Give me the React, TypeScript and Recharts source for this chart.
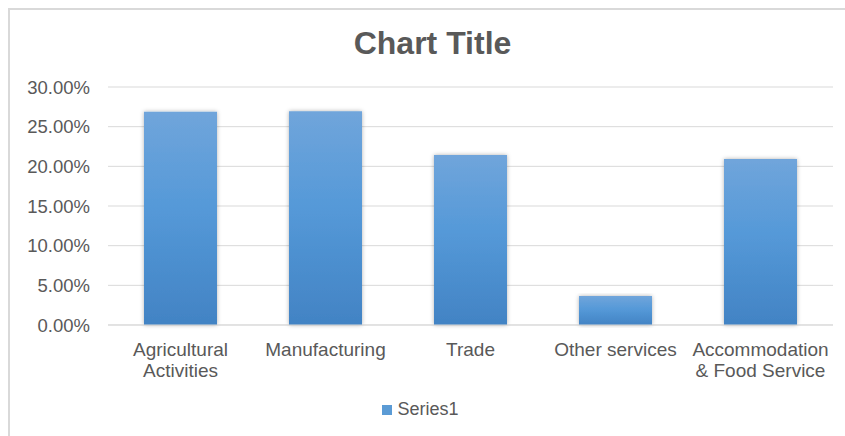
import { BarChart, Bar, XAxis, YAxis, CartesianGrid, Legend } from "recharts"

const categories = [
  "Agricultural\nActivities",
  "Manufacturing",
  "Trade",
  "Other services",
  "Accommodation\n& Food Service",
]
const series1 = [0.2687, 0.2695, 0.2144, 0.0364, 0.2094]
const yTicks = [0, 0.05, 0.1, 0.15, 0.2, 0.25, 0.3]

const data = categories.map((name, i) => ({ name, Series1: series1[i] }))

const FONT = "'Liberation Sans', Arial, sans-serif"
const TEXT = "#595959"

function CategoryTick(props: any) {
  const { x, y, payload } = props
  const lines = String(payload.value).split("\n")
  return (
    <text x={x} y={y} textAnchor="middle" fill={TEXT} fontSize={19} fontFamily={FONT}>
      {lines.map((l, i) => (
        <tspan key={i} x={x} dy={i === 0 ? 23 : 21}>
          {l}
        </tspan>
      ))}
    </text>
  )
}

function LegendContent() {
  return (
    <div
      style={{
        display: "flex",
        justifyContent: "center",
        alignItems: "center",
        fontFamily: FONT,
        fontSize: 18,
        color: TEXT,
        paddingTop: 14,
      }}
    >
      <span style={{ width: 10, height: 10, background: "#5b9bd5", marginRight: 5 }} />
      Series1
    </div>
  )
}

export default function App() {
  return (
    <div style={{ position: "fixed", left: 0, top: 0, width: 845, height: 436, background: "#fff" }}>
      <div
        style={{
          position: "absolute",
          left: 8,
          top: 8,
          width: 845,
          height: 436,
          borderLeft: "2px solid #d9d9d9",
          borderTop: "2px solid #d9d9d9",
        }}
      />
      <div
        style={{
          position: "absolute",
          left: 0,
          width: 865,
          top: 25,
          textAlign: "center",
          fontFamily: FONT,
          fontWeight: "bold",
          fontSize: 32,
          color: TEXT,
        }}
      >
        Chart Title
      </div>
      <BarChart
        width={845}
        height={436}
        data={data}
        margin={{ top: 87, right: 12, left: 8, bottom: 0 }}
        barCategoryGap="25%"
        style={{ position: "absolute", left: 0, top: 0 }}
      >
        <defs>
          <linearGradient id="barFill" x1="0" y1="0" x2="0" y2="1">
            <stop offset="0%" stopColor="#70a5db" />
            <stop offset="45%" stopColor="#5599d8" />
            <stop offset="100%" stopColor="#4283c4" />
          </linearGradient>
          <filter id="shadow" x="-10%" y="-10%" width="120%" height="120%">
            <feDropShadow dx="0" dy="0" stdDeviation="2" floodColor="#000" floodOpacity="0.3" />
          </filter>
        </defs>
        <CartesianGrid vertical={false} stroke="#d9d9d9" />
        <XAxis
          dataKey="name"
          interval={0}
          tickLine={false}
          axisLine={{ stroke: "#d9d9d9" }}
          height={60}
          tick={<CategoryTick />}
        />
        <YAxis
          domain={[0, 0.3]}
          ticks={yTicks}
          width={100}
          axisLine={false}
          tickLine={false}
          tickMargin={12}
          tickFormatter={(v: number) => (v * 100).toFixed(2) + "%"}
          tick={{ fill: TEXT, fontSize: 18.5, fontFamily: FONT }}
        />
        <Legend verticalAlign="bottom" height={51} content={<LegendContent />} />
        <Bar
          dataKey="Series1"
          fill="url(#barFill)"
          barSize={73}
          filter="url(#shadow)"
          isAnimationActive={false}
        />
      </BarChart>
    </div>
  )
}
